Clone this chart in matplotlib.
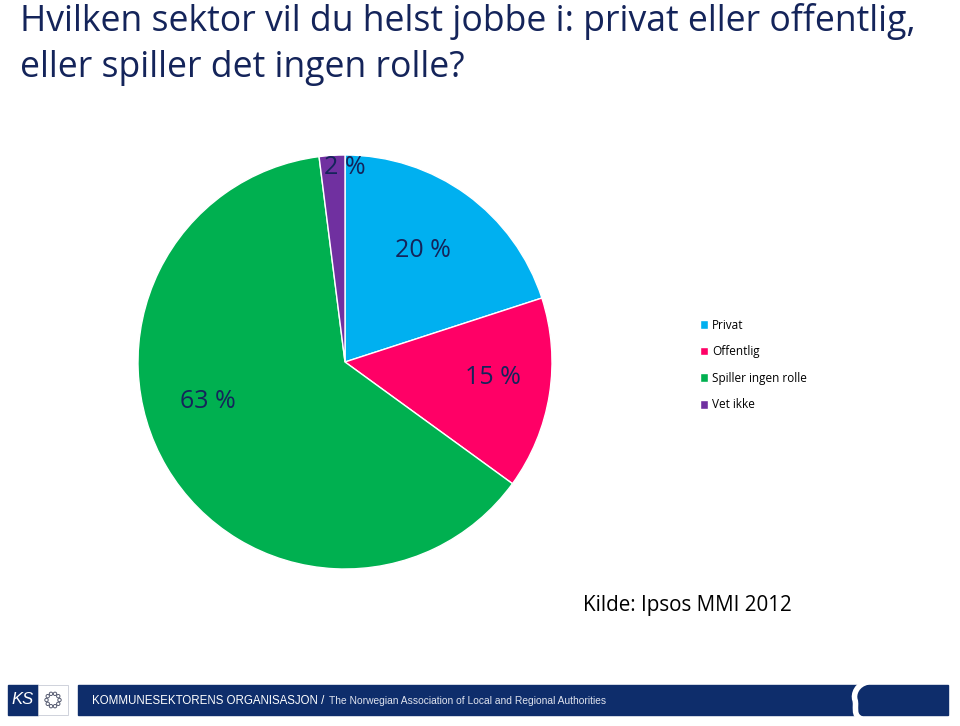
import numpy as np
import matplotlib
matplotlib.use('Agg')
import matplotlib.pyplot as plt
import matplotlib.patches as mpatches
from matplotlib.path import Path

# data
categories = ['Privat', 'Offentlig', 'Spiller ingen rolle', 'Vet ikke']
shares = [20, 15, 63, 2]
colors = ['#00B0F0', '#FF0066', '#00B050', '#7030A0']
pct_labels = ['20 %', '15 %', '63 %', '2 %']
# label placement (radius fraction, angle in degrees)
label_pos = [(0.66, 55), (0.72, -6), (0.69, -164), (0.94, 90)]

plt.rcParams['font.family'] = ['Open Sans', 'DejaVu Sans']

W, H = 960, 726
fig = plt.figure(figsize=(9.6, 7.26), dpi=100)
fig.patch.set_facecolor('white')
navy_text = '#14245A'

# title, sized so line 1 spans the same width as the reference
t1 = fig.text(20 / W, 1 - 31 / H, 'Hvilken sektor vil du helst jobbe i: privat eller offentlig,',
              ha='left', va='baseline', fontsize=24, color=navy_text)
r = fig.canvas.get_renderer()
fs = 24 * 898 / t1.get_window_extent(r).width
t1.set_fontsize(fs)
fig.text(20 / W, 1 - 77 / H, 'eller spiller det ingen rolle?', ha='left', va='baseline',
         fontsize=fs, color=navy_text)

# pie
R = 207
cx, cy = 345, 362
ax = fig.add_axes([(cx - R) / W, 1 - (cy + R) / H, 2 * R / W, 2 * R / H])
wedges, _ = ax.pie(shares, colors=colors, startangle=90, counterclock=False,
                   wedgeprops=dict(edgecolor='white', linewidth=1))
ax.set_xlim(-1, 1)
ax.set_ylim(-1, 1)
ax.set_aspect('equal')
for lab, (rr, a) in zip(pct_labels, label_pos):
    t = np.deg2rad(a)
    ax.text(rr * np.cos(t), rr * np.sin(t), lab, ha='center', va='center',
            fontsize=18, color=navy_text)

# legend
fig.legend(wedges, categories, loc='upper left', bbox_to_anchor=(689 / W, 1 - 308 / H),
           frameon=False, fontsize=8.5, handlelength=0.75, handleheight=0.75,
           labelspacing=1.15, handletextpad=0.3)

# source
fig.text(583 / W, 1 - 606 / H, 'Kilde: Ipsos MMI 2012', ha='left', va='center',
         fontsize=14.9, color='black')

# footer
navy = '#0E2D6B'
fig.patches.append(mpatches.Rectangle((78 / W, 1 - 715 / H), (948 - 78) / W, 30 / H,
                                      transform=fig.transFigure, color=navy))
fig.patches.append(mpatches.Rectangle((8 / W, 1 - 715 / H), 30 / W, 30 / H,
                                      transform=fig.transFigure, color=navy))
fig.patches.append(mpatches.Rectangle((38 / W, 1 - 715 / H), 30 / W, 30 / H,
                                      transform=fig.transFigure, facecolor='white',
                                      edgecolor='#c8cbd6', linewidth=0.6))
fig.text(23 / W, 1 - 700 / H, 'KS', ha='center', va='center', color='white',
         fontsize=12, style='italic', family='Liberation Sans')
for k in range(10):
    t = 2 * np.pi * k / 10
    fig.patches.append(mpatches.Ellipse(((53 + 6.5 * np.cos(t)) / W, 1 - (700 + 6.5 * np.sin(t)) / H),
                                        3.4 / W, 3.4 / H, transform=fig.transFigure,
                                        facecolor='white', edgecolor='#555a70', linewidth=0.7))
fig.text(92 / W, 1 - 701 / H, 'KOMMUNESEKTORENS ORGANISASJON /', ha='left', va='center',
         color='white', fontsize=8.3, family='Liberation Sans')
fig.text(329 / W, 1 - 701 / H, 'The Norwegian Association of Local and Regional Authorities',
         ha='left', va='center', color='#dfe3ee', fontsize=7.4, family='Liberation Sans')

# curly separator
verts = [(868, 682), (857, 684), (853, 694), (855, 700), (857, 706), (852, 716), (862, 719)]
codes = [Path.MOVETO, Path.CURVE4, Path.CURVE4, Path.CURVE4, Path.CURVE4, Path.CURVE4, Path.CURVE4]
pth = Path([(x / W, 1 - y / H) for x, y in verts], codes)
fig.patches.append(mpatches.PathPatch(pth, transform=fig.transFigure, facecolor='none',
                                      edgecolor='white', linewidth=4, capstyle='butt'))

fig.savefig('out.png', dpi=100)
